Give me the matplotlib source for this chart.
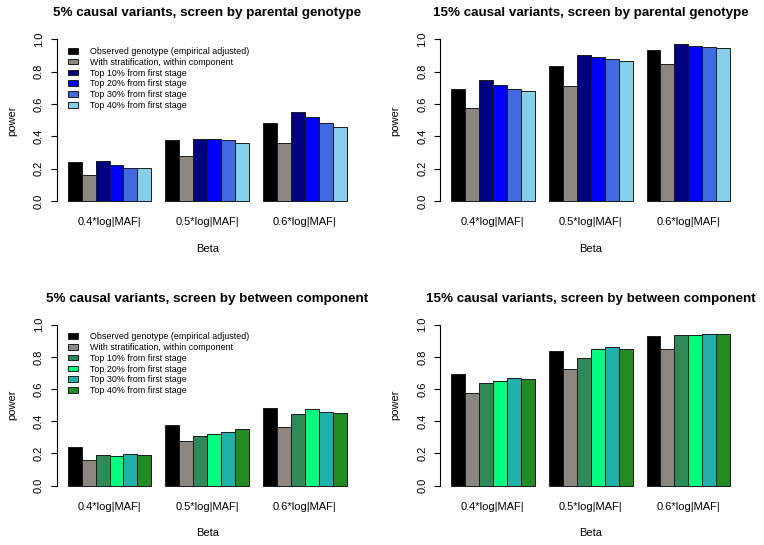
import numpy as np
import matplotlib
matplotlib.use("Agg")
import matplotlib.pyplot as plt

plt.rcParams['font.family'] = ['Liberation Sans', 'DejaVu Sans']

groups = ["0.4*log|MAF|", "0.5*log|MAF|", "0.6*log|MAF|"]
series = ["Observed genotype (empirical adjusted)",
          "With stratification, within component",
          "Top 10% from first stage",
          "Top 20% from first stage",
          "Top 30% from first stage",
          "Top 40% from first stage"]

# rows = series, columns = groups
p5_parental = [[0.240, 0.376, 0.481],
               [0.160, 0.279, 0.362],
               [0.246, 0.384, 0.550],
               [0.221, 0.384, 0.521],
               [0.205, 0.378, 0.483],
               [0.205, 0.362, 0.461]]
p15_parental = [[0.692, 0.838, 0.932],
                [0.574, 0.710, 0.847],
                [0.748, 0.902, 0.969],
                [0.717, 0.893, 0.961],
                [0.692, 0.878, 0.952],
                [0.680, 0.864, 0.950]]
p5_between = [[0.240, 0.376, 0.481],
              [0.160, 0.279, 0.362],
              [0.188, 0.308, 0.445],
              [0.182, 0.319, 0.474],
              [0.195, 0.333, 0.460],
              [0.188, 0.350, 0.449]]
p15_between = [[0.693, 0.837, 0.933],
               [0.573, 0.723, 0.847],
               [0.638, 0.793, 0.934],
               [0.648, 0.849, 0.938],
               [0.669, 0.859, 0.942],
               [0.660, 0.847, 0.940]]

blues = ["black", "#8B8682", "navy", "blue", "royalblue", "skyblue"]
greens = ["black", "#8B8682", "seagreen", "springgreen", "lightseagreen", "forestgreen"]

panels = [
    ("5% causal variants, screen by parental genotype", p5_parental, blues, True,
     [56.5 / 764, 1 - 207.5 / 545, 301.4 / 764, 174.5 / 545]),
    ("15% causal variants, screen by parental genotype", p15_parental, blues, False,
     [439.8 / 764, 1 - 207.5 / 545, 301.7 / 764, 174.5 / 545]),
    ("5% causal variants, screen by between component", p5_between, greens, True,
     [56.5 / 764, 1 - 492.1 / 545, 301.4 / 764, 173.8 / 545]),
    ("15% causal variants, screen by between component", p15_between, greens, False,
     [439.8 / 764, 1 - 492.1 / 545, 301.7 / 764, 173.8 / 545]),
]

fig = plt.figure(figsize=(7.64, 5.45), dpi=100)

nser = len(series)
for title, vals, cols, show_leg, rect in panels:
    ax = fig.add_axes(rect)
    vals = np.array(vals)
    starts = np.arange(len(groups)) * (nser + 1) + 1
    for i in range(nser):
        ax.bar(starts + i, vals[i], width=1, align='edge', color=cols[i],
               edgecolor='#1a1a1a', linewidth=0.7, label=series[i])
    ax.set_xlim(0.2, starts[-1] + nser + 0.8)
    ax.set_ylim(-0.04, 1.04)
    for s in ['top', 'right', 'bottom']:
        ax.spines[s].set_visible(False)
    ax.spines['left'].set_bounds(0, 1)
    ax.spines['left'].set_linewidth(0.8)
    ax.set_yticks([0, 0.2, 0.4, 0.6, 0.8, 1.0])
    ax.set_yticklabels(["0.0", "0.2", "0.4", "0.6", "0.8", "1.0"],
                       rotation=90, va='center', fontsize=8)
    ax.tick_params(axis='y', length=4, width=0.8, pad=5)
    ax.set_xticks(starts + nser / 2)
    ax.set_xticklabels(groups, fontsize=8)
    ax.tick_params(axis='x', length=0, pad=7)
    ax.set_xlabel("Beta", fontsize=8, va='center')
    ax.xaxis.set_label_coords(0.5, -0.236)
    ax.set_ylabel("power", fontsize=8, va='center')
    ax.yaxis.set_label_coords(-0.148, 0.5)
    ax.set_title(title, fontsize=9.6, fontweight='bold', pad=12)
    if show_leg:
        ax.legend(loc='upper left', bbox_to_anchor=(0.037, 0.92), frameon=False,
                  fontsize=6.4, handlelength=1.2, handleheight=0.6,
                  handletextpad=1.3, labelspacing=0.2, borderpad=0,
                  borderaxespad=0)

fig.savefig("out.png", dpi=100)
